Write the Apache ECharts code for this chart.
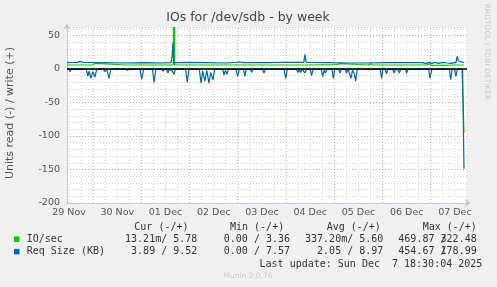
<!DOCTYPE html>
<html><head><meta charset="utf-8">
<script src="https://cdn.jsdelivr.net/npm/echarts@6/dist/echarts.min.js"></script>
<style>html,body{margin:0;padding:0;background:#f0f0f0}#c{width:497px;height:287px}</style>
</head><body><div id="c"></div>
<script>
// Hours since 29 Nov 00:00
const dayLabels = ['29 Nov','30 Nov','01 Dec','02 Dec','03 Dec','04 Dec','05 Dec','06 Dec','07 Dec'];
const yTickLabels = [50, 0, -50, -100, -150, -200];
const xMin = 11, xMax = 210;
const yMin = -200, yMax = 62;

const ioWrite = [[11,6],[23.8,6],[24.9,8.5],[25.8,6],[40,6],[55,6],[63.9,6],[64.2,322],[64.5,6],[80,6],[100,6],[119,6],[128.7,6],[129.4,8],[130.1,6],[145,6.5],[146.8,8],[147.5,6],[161,6],[162,8],[163,6],[185,6],[190,6],[191.6,8],[192.3,5],[205,6],[208.5,6]];
const ioRead = [[11,0],[207.5,0],[208.5,-95]];
const reqWrite = [[11,9.5],[16,10],[17.5,11.5],[19,10],[30,9.5],[40,9],[50,9.5],[58,9],[62.8,9.5],[63.3,20],[63.7,39],[64.1,9],[65.5,9.5],[70,10],[80,9.5],[90,9],[95,10],[97,10.5],[99,9.5],[110,9.5],[120,10],[128.8,10],[129.4,22],[130,10],[140,9.5],[150,9],[160,9],[170,9.5],[180,9.5],[188,9.5],[189.5,8],[191,10],[192.5,8.5],[194,10],[196,8.5],[198,10],[200,9],[202,8.5],[204.5,10],[205.1,19],[205.7,12],[206.5,10],[208.5,9.5]];
const reqRead = [[11,0],[12,0],[12.5,-4],[13,0],[20.5,0],[21.4,-10],[22,-3],[22.9,-14],[23.8,-4],[24.9,-12],[25.8,0],[29,0],[29.9,-4],[30.8,0],[31.9,-14],[32.8,0],[40,0],[41,-2],[42,0],[47.3,0],[48.2,-15],[49.1,0],[53.5,0],[54.3,-20],[55.2,0],[58,0],[58.7,-3],[59.5,0],[60.5,0],[61.2,-6],[62,0],[63.4,-3],[64.2,-8],[65,0],[70,0],[70.8,-20],[71.7,0],[76.8,0],[77.7,-21],[78.5,-3],[79.6,-18],[80.5,-2],[81.6,-21],[82.5,-5],[83.6,-16],[84.5,0],[88.5,0],[89.1,-9],[89.8,-2],[90.6,-8],[91.3,0],[95,0],[95.9,-11],[96.8,0],[98.8,0],[99.5,-11],[100.2,0],[102.2,0],[102.9,-5],[103.6,0],[106,0],[106.5,-2],[107,0],[108.3,0],[109,-6],[109.7,0],[113,0],[113.5,-2],[114,0],[119,0],[119.8,-14],[120.6,0],[125,0],[125.9,-5],[126.6,-1],[127.2,-5],[128,0],[129.4,-6],[130.2,0],[132,0],[132.7,-10],[133.4,0],[137.5,0],[138.2,-11],[138.9,-2],[139.6,-6],[140.3,0],[142.8,0],[143.5,-14],[144.2,0],[146,0],[146.8,-6],[147.5,0],[149.4,0],[150.1,-6],[150.8,0],[151.6,0],[152.3,-14],[153,-2],[153.8,-6],[154.6,-18],[155.4,0],[160.5,0],[161,-2],[161.7,0],[162.5,-2],[163,0],[166.8,0],[167.5,-14],[168.2,0],[169.3,0],[170,-7],[170.7,0],[173,0],[173.7,-6],[174.4,0],[175.6,0],[176.3,-6],[177,0],[179.3,0],[180,-6],[180.7,0],[190.9,0],[191.6,-14],[192.1,-6],[192.6,0],[201.2,0],[201.9,-16],[202.6,0],[203.8,0],[204.5,-11],[205.2,0],[207.8,0],[208.5,-149]];

const legendRows = [
  {name:'IO/sec', color:'#00cc00', cur:'13.21m/ 5.78', min:'0.00 / 3.36', avg:'337.20m/ 5.60', maxA:'469.87 /', maxB:'322.48'},
  {name:'Req Size (KB)', color:'#0066b3', cur:'3.89 / 9.52', min:'0.00 / 7.57', avg:'2.05 / 8.97', maxA:'454.67 /', maxB:'178.99'}
];
const headers = ['Cur (-/+)','Min (-/+)','Avg (-/+)','Max (-/+)'];
const lastUpdate = 'Last update: Sun Dec  7 18:30:04 2025';

// grid line series (vertical), every 6 h, red at midnight
const minorV = [], majorV = [];
for (let h = Math.ceil(xMin/6)*6; h <= xMax; h += 6) {
  const tgt = (h % 24 === 0) ? majorV : minorV;
  tgt.push([h, yMin], [h, yMax], [h, '-']);
}
const dayNoon = dayLabels.map((d,i)=>12+24*i);

const AX = '#c4c4ee';
const font = 'DejaVu Sans';
const mono = 'DejaVu Sans Mono';
const lineS = (data, color, z) => ({type:'line', data, symbol:'none', z, lineStyle:{color, width:1.2}, silent:true, animation:false, clip:true});

const graphics = [
  {type:'text', x:248, y:18, style:{text:'IOs for /dev/sdb - by week', font:'12.5px '+font, fill:'#444', textAlign:'center', textVerticalAlign:'middle'}},
  {type:'text', x:10, y:113, rotation:Math.PI/2, style:{text:'Units read (-) / write (+)', font:'11px '+font, fill:'#555', textAlign:'center', textVerticalAlign:'middle'}},
  {type:'text', x:487, y:52, rotation:-Math.PI/2, style:{text:'RRDTOOL / TOBI OETIKER', font:'7.5px '+font, fill:'#c8c8c8', textAlign:'center', textVerticalAlign:'middle'}},
  {type:'text', x:248, y:276, style:{text:'Munin 2.0.76', font:'7.5px '+font, fill:'#c8c8c8', textAlign:'center', textVerticalAlign:'middle'}},
  {type:'text', x:482.3, y:264, style:{text:lastUpdate, font:'10px '+mono, fill:'#333', textAlign:'right', textVerticalAlign:'middle'}}
];
const headerX = [134.3, 230, 326.7, 422.7];
headers.forEach((t,i)=>graphics.push({type:'text', x:headerX[i], y:227.7, style:{text:t, font:'10px '+mono, fill:'#333', textAlign:'left', textVerticalAlign:'middle'}}));
legendRows.forEach((r,i)=>{
  const y = 239.3 + i*12.4;
  graphics.push({type:'rect', shape:{x:14, y:y-2.8, width:5.5, height:5.5}, style:{fill:r.color}});
  graphics.push({type:'text', x:26.7, y, style:{text:r.name, font:'10px '+mono, fill:'#333', textAlign:'left', textVerticalAlign:'middle'}});
  [[r.cur,197.3],[r.min,290],[r.avg,383.3],[r.maxB,476.7]].forEach(([t,x])=>graphics.push({type:'text', x, y, style:{text:t, font:'10px '+mono, fill:'#333', textAlign:'right', textVerticalAlign:'middle'}}));
  graphics.push({type:'text', x:398.3, y, style:{text:r.maxA, font:'10px '+mono, fill:'#333', textAlign:'left', textVerticalAlign:'middle'}});
});

const chart = echarts.init(document.getElementById('c'), null, {renderer:'canvas'});
chart.setOption({
  animation:false,
  backgroundColor:'#f0f0f0',
  grid:{left:67, right:30, top:27.5, bottom:84, show:true, backgroundColor:'#ffffff', borderWidth:0},
  xAxis:{type:'value', min:xMin, max:xMax,
    splitLine:{show:false}, axisTick:{show:false},
    axisLine:{show:true, onZero:false, lineStyle:{color:AX, width:1}, symbol:['none','arrow'], symbolSize:[6,6], symbolOffset:[0,4]},
    axisLabel:{customValues:dayNoon, formatter:v=>dayLabels[Math.round((v-12)/24)]||'', color:'#555', fontFamily:font, fontSize:9.5, margin:5}
  },
  yAxis:{type:'value', min:yMin, max:yMax, interval:10,
    splitLine:{show:true, lineStyle:{color:['rgba(230,80,80,0.55)','#d6d6d6','#d6d6d6','#d6d6d6','#d6d6d6'], type:[1,2], width:1}},
    axisTick:{show:false},
    axisLine:{show:true, lineStyle:{color:AX, width:1}, symbol:['none','arrow'], symbolSize:[6,6], symbolOffset:[0,4]},
    axisLabel:{formatter:v=>yTickLabels.indexOf(v)>=0?String(v):'', color:'#555', fontFamily:font, fontSize:9.5, margin:7, showMaxLabel:false}
  },
  graphic:graphics,
  series:[
    {type:'line', data:minorV, symbol:'none', z:1, silent:true, connectNulls:false, lineStyle:{color:'#d6d6d6', width:1, type:[1,2]}},
    {type:'line', data:majorV, symbol:'none', z:1, silent:true, connectNulls:false, lineStyle:{color:'rgba(230,80,80,0.55)', width:1, type:[1,2]}},
    lineS(ioRead, '#00cc00', 3),
    lineS(ioWrite, '#00cc00', 3),
    lineS(reqRead, '#0066b3', 4),
    lineS(reqWrite, '#0066b3', 4),
    {type:'line', data:[[xMin,0],[xMax,0]], symbol:'none', z:5, silent:true, lineStyle:{color:'#000', width:1.5}}
  ]
});
</script></body></html>
